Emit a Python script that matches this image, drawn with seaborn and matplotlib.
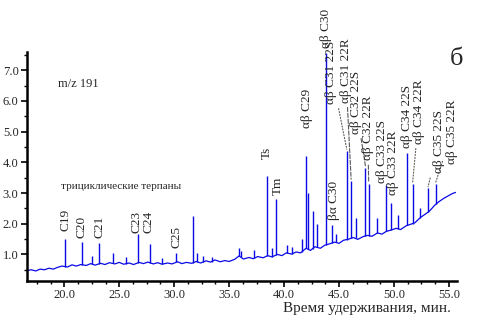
import matplotlib
matplotlib.use("Agg")
import matplotlib.pyplot as plt
from matplotlib.ticker import MultipleLocator, AutoMinorLocator, FormatStrFormatter
import numpy as np
import pandas as pd
import seaborn as sns

# baseline of the m/z 191 trace (time, intensity)
base_t = [16.6, 17.0, 17.4, 17.8, 18.2, 18.6, 19.0, 19.4, 19.8, 20.3, 20.7, 21.1,
          21.5, 22.0, 22.4, 22.8, 23.3, 23.7, 24.1, 24.6, 25.0, 25.4, 25.9, 26.3,
          26.8, 27.2, 27.6, 28.1, 28.5, 28.9, 29.4, 29.8, 30.3, 30.7, 31.1, 31.6,
          32.0, 32.4, 32.9, 33.3, 33.7, 34.2, 34.6, 35.0, 35.5, 35.9, 36.3, 36.8,
          37.2, 37.6, 38.1, 38.5, 38.9, 39.4, 39.8, 40.2, 40.7, 41.1, 41.5, 42.0,
          42.4, 42.8, 43.3, 43.7, 44.1, 44.6, 45.0, 45.4, 45.9, 46.3, 46.7, 47.2,
          47.6, 48.0, 48.5, 48.9, 49.3, 49.8, 50.2, 50.6, 51.1, 51.5, 51.9, 52.4,
          52.8, 53.2, 53.7, 54.1, 54.5, 55.0, 55.3, 55.6]
base_v = [0.47, 0.50, 0.46, 0.52, 0.50, 0.55, 0.52, 0.58, 0.62, 0.59, 0.66, 0.62,
          0.67, 0.64, 0.70, 0.65, 0.71, 0.67, 0.73, 0.69, 0.74, 0.68, 0.72, 0.67,
          0.74, 0.70, 0.75, 0.69, 0.73, 0.68, 0.72, 0.69, 0.76, 0.70, 0.74, 0.71,
          0.77, 0.72, 0.79, 0.75, 0.82, 0.76, 0.80, 0.77, 0.84, 0.95, 0.85, 0.90,
          0.86, 0.93, 0.89, 0.96, 0.92, 1.00, 0.96, 1.05, 1.01, 1.08, 1.05, 1.20,
          1.13, 1.25, 1.20, 1.30, 1.34, 1.40, 1.36, 1.46, 1.50, 1.55, 1.49, 1.58,
          1.62, 1.59, 1.70, 1.66, 1.75, 1.80, 1.85, 1.81, 1.93, 1.98, 2.03, 2.20,
          2.30, 2.40, 2.60, 2.72, 2.82, 2.92, 2.98, 3.02]

# peaks (time, apex)
peak_t = [20.1, 21.6, 22.5, 23.2, 24.4, 25.6, 26.7, 27.8, 28.9, 30.2, 31.7, 32.1,
          32.6, 33.4, 35.9, 36.1, 37.3, 38.45, 38.9, 39.3, 40.3, 40.7, 41.6, 42.0,
          42.2, 42.6, 43.0, 43.8, 44.4, 44.7, 45.7, 46.1, 46.5, 47.4, 47.7, 48.5,
          49.3, 49.7, 50.4, 51.2, 51.7, 52.4, 53.1, 53.8]
peak_h = [1.49, 1.40, 0.95, 1.36, 1.05, 0.90, 1.66, 1.33, 0.88, 1.04, 2.24, 1.05,
          0.95, 0.92, 1.20, 1.10, 1.15, 3.54, 1.20, 2.80, 1.30, 1.25, 1.50, 4.22,
          3.00, 2.43, 2.00, 7.56, 1.95, 1.65, 4.38, 3.40, 2.20, 3.83, 3.30, 2.20,
          3.25, 2.66, 2.30, 4.29, 3.30, 2.50, 3.15, 3.30]

# labels directly above peaks: text, x, y of label bottom
lab_text = ["C19", "C20", "C21", "C23", "C24", "C25", "Ts", "Tm", "αβ C29",
            "βα C30", "αβ C30", "αβ C33 22S", "αβ C33 22R", "αβ C34 22S"]
lab_t = [20.1, 21.55, 23.2, 26.6, 27.7, 30.2, 38.45, 39.4, 42.1,
         44.5, 43.8, 48.9, 49.9, 51.2]
lab_v = [1.75, 1.53, 1.53, 1.69, 1.69, 1.20, 4.12, 2.95, 5.13,
         2.11, 7.73, 3.34, 2.95, 4.48]

# labels with leader lines: text, label x, label bottom, peak x, peak apex
lead_text = ["αβ C31 22S", "αβ C31 22R", "αβ C32 22S", "αβ C32 22R",
             "αβ C34 22R", "αβ C35 22S", "αβ C35 22R"]
lead_t = [44.3, 45.6, 46.5, 47.6, 52.3, 54.1, 55.3]
lead_v = [5.90, 5.94, 4.93, 4.06, 4.60, 3.64, 3.96]
lead_pt = [45.7, 46.1, 47.4, 47.7, 51.7, 53.1, 53.8]
lead_pv = [4.38, 3.40, 3.83, 3.30, 3.30, 3.15, 3.30]
lead_style = [":", "--", "--", "--", ":", ":", ":"]

sns.set_theme(style="ticks")
plt.rcParams["font.family"] = ["Liberation Serif", "DejaVu Serif"]

fig = plt.figure(figsize=(4.9, 3.22), dpi=100)
ax = fig.add_axes([0.055, 0.127, 0.878, 0.712])

blue = "#0a0ae6"
df = pd.DataFrame({"t": base_t, "v": base_v})
sns.lineplot(data=df, x="t", y="v", ax=ax, color=blue, lw=0.9)
bottoms = np.interp(peak_t, base_t, base_v)
ax.vlines(peak_t, bottoms, peak_h, color=blue, lw=1.0)

for s, x, y in zip(lab_text, lab_t, lab_v):
    ax.text(x, y, s, rotation=90, ha="center", va="bottom", fontsize=9.5)

for s, x, y, px, py, ls in zip(lead_text, lead_t, lead_v, lead_pt, lead_pv, lead_style):
    ax.annotate(s, xy=(px, py + 0.05), xytext=(x, y), textcoords="data",
                rotation=90, ha="center", va="bottom", fontsize=9.5,
                arrowprops=dict(arrowstyle="-", linestyle=ls, color="0.35", lw=0.8,
                                shrinkA=1, shrinkB=0))

ax.text(19.45, 6.56, "m/z 191", ha="left", va="center", fontsize=9)
ax.text(19.7, 3.2, "трициклические терпаны", ha="left", va="center", fontsize=8)
ax.text(55.7, 7.37, "б", ha="center", va="center", fontsize=19)

ax.set_xlim(16.6, 55.75)
ax.set_ylim(0.13, 7.6)
ax.xaxis.set_major_locator(MultipleLocator(5))
ax.xaxis.set_minor_locator(AutoMinorLocator(4))
ax.yaxis.set_major_locator(MultipleLocator(1))
ax.yaxis.set_minor_locator(AutoMinorLocator(2))
ax.xaxis.set_major_formatter(FormatStrFormatter("%.1f"))
ax.yaxis.set_major_formatter(FormatStrFormatter("%.1f"))
ax.tick_params(which="major", length=4, width=1.2, labelsize=9, pad=2, color="black")
ax.tick_params(which="minor", length=2.5, width=1.0, color="black")
for side in ["top", "right"]:
    ax.spines[side].set_visible(False)
for side in ["left", "bottom"]:
    ax.spines[side].set_linewidth(1.8)
    ax.spines[side].set_color("black")

ax.set_ylabel("")
ax.set_xlabel("Время удерживания, мин.", fontsize=11)
ax.xaxis.set_label_coords(0.79, -0.09)

fig.savefig("out.png", dpi=100)
